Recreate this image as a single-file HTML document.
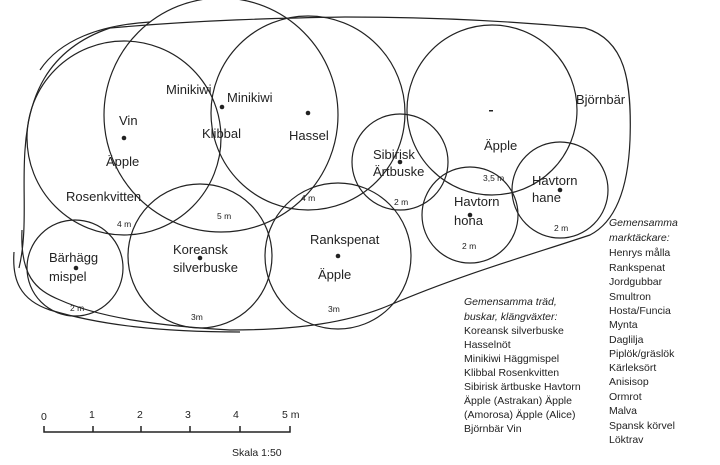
<!DOCTYPE html>
<html><head><meta charset="utf-8"><style>
body{margin:0;background:#fff;width:720px;height:465px;overflow:hidden}
svg{display:block}
text{font-family:"Liberation Sans","DejaVu Sans",sans-serif;fill:#222}
.l{font-size:13px}
.s{font-size:8.5px}
.t{font-size:10.5px}
.i{font-size:10.5px;font-style:italic}
</style></head><body>
<svg width="720" height="465" viewBox="0 0 720 465" fill="none" stroke="#222" stroke-width="1.2">
<path d="M19,268 C28,230 22,190 25,150 C28,100 45,50 110,28 C200,20 280,18 345,17 C420,17 500,20 585,28 C625,40 632,80 630,140 C628,190 615,222 590,235 C530,255 460,275 390,305 C350,322 300,330 230,330 C160,326 100,318 60,300 C35,290 20,275 22,230"/>
<path d="M14,252 C12,280 20,300 50,310 C100,325 160,332 240,332"/>
<path d="M40,70 C60,40 100,25 150,22"/>
<circle cx="124" cy="138" r="97"/>
<circle cx="221" cy="115" r="117"/>
<circle cx="308" cy="113" r="97"/>
<circle cx="492" cy="110" r="85"/>
<circle cx="400" cy="162" r="48"/>
<circle cx="470" cy="215" r="48"/>
<circle cx="560" cy="190" r="48"/>
<circle cx="75" cy="268" r="48"/>
<circle cx="200" cy="256" r="72"/>
<circle cx="338" cy="256" r="73"/>
<g fill="#222" stroke="none">
<circle cx="124" cy="138" r="2.3"/><circle cx="222" cy="107" r="2.3"/><circle cx="308" cy="113" r="2.3"/>
<rect x="489" y="110" width="4" height="1.5"/><circle cx="400" cy="162" r="2.3"/><circle cx="470" cy="215" r="2.3"/>
<circle cx="560" cy="190" r="2.3"/><circle cx="76" cy="268" r="2.3"/><circle cx="200" cy="258" r="2.3"/><circle cx="338" cy="256" r="2.3"/>
<text class="l" x="119" y="125">Vin</text>
<text class="l" x="106" y="166">Äpple</text>
<text class="l" x="166" y="94">Minikiwi</text>
<text class="l" x="227" y="102">Minikiwi</text>
<text class="l" x="202" y="138">Klibbal</text>
<text class="l" x="289" y="140">Hassel</text>
<text class="l" x="66" y="201">Rosenkvitten</text>
<text class="s" x="117" y="227">4 m</text>
<text class="s" x="217" y="219">5 m</text>
<text class="s" x="301" y="201">4 m</text>
<text class="l" x="49" y="262">Bärhägg</text>
<text class="l" x="49" y="281">mispel</text>
<text class="s" x="70" y="311">2 m</text>
<text class="l" x="173" y="254">Koreansk</text>
<text class="l" x="173" y="272">silverbuske</text>
<text class="s" x="191" y="320">3m</text>
<text class="l" x="310" y="244">Rankspenat</text>
<text class="l" x="318" y="279">Äpple</text>
<text class="s" x="328" y="312">3m</text>
<text class="l" x="373" y="159">Sibirisk</text>
<text class="l" x="373" y="176">Ärtbuske</text>
<text class="s" x="394" y="205">2 m</text>
<text class="l" x="484" y="150">Äpple</text>
<text class="s" x="483" y="181">3,5 m</text>
<text class="l" x="576" y="104">Björnbär</text>
<text class="l" x="532" y="185">Havtorn</text>
<text class="l" x="532" y="202">hane</text>
<text class="s" x="554" y="231">2 m</text>
<text class="l" x="454" y="206">Havtorn</text>
<text class="l" x="454" y="225">hona</text>
<text class="s" x="462" y="249">2 m</text>
<text class="i" x="609" y="226">Gemensamma</text>
<text class="i" x="609" y="241">marktäckare:</text>
<g class="t">
<text x="609" y="256">Henrys målla</text><text x="609" y="271">Rankspenat</text><text x="609" y="285">Jordgubbar</text>
<text x="609" y="300">Smultron</text><text x="609" y="314">Hosta/Funcia</text><text x="609" y="328">Mynta</text>
<text x="609" y="343">Daglilja</text><text x="609" y="357">Piplök/gräslök</text><text x="609" y="371">Kärleksört</text>
<text x="609" y="385">Anisisop</text><text x="609" y="400">Ormrot</text><text x="609" y="414">Malva</text>
<text x="609" y="429">Spansk körvel</text><text x="609" y="443">Löktrav</text>
</g>
<text class="i" x="464" y="305">Gemensamma träd,</text>
<text class="i" x="464" y="320">buskar, klängväxter:</text>
<g class="t">
<text x="464" y="334">Koreansk silverbuske</text><text x="464" y="348">Hasselnöt</text>
<text x="464" y="362">Minikiwi  Häggmispel</text><text x="464" y="376">Klibbal Rosenkvitten</text>
<text x="464" y="390">Sibirisk ärtbuske   Havtorn</text><text x="464" y="404">Äpple (Astrakan) Äpple</text>
<text x="464" y="418">(Amorosa) Äpple (Alice)</text><text x="464" y="432">Björnbär Vin</text>
</g>
<text class="t" x="41" y="420">0</text><text class="t" x="89" y="418">1</text><text class="t" x="137" y="418">2</text>
<text class="t" x="185" y="418">3</text><text class="t" x="233" y="418">4</text><text class="t" x="282" y="418">5 m</text>
<text class="t" x="232" y="456">Skala 1:50</text>
</g>
<path d="M44,426 V432 H290 V426 M93,426V432 M141,426V432 M190,426V432 M240,426V432" stroke-width="1.5"/>
</svg>
</body></html>
